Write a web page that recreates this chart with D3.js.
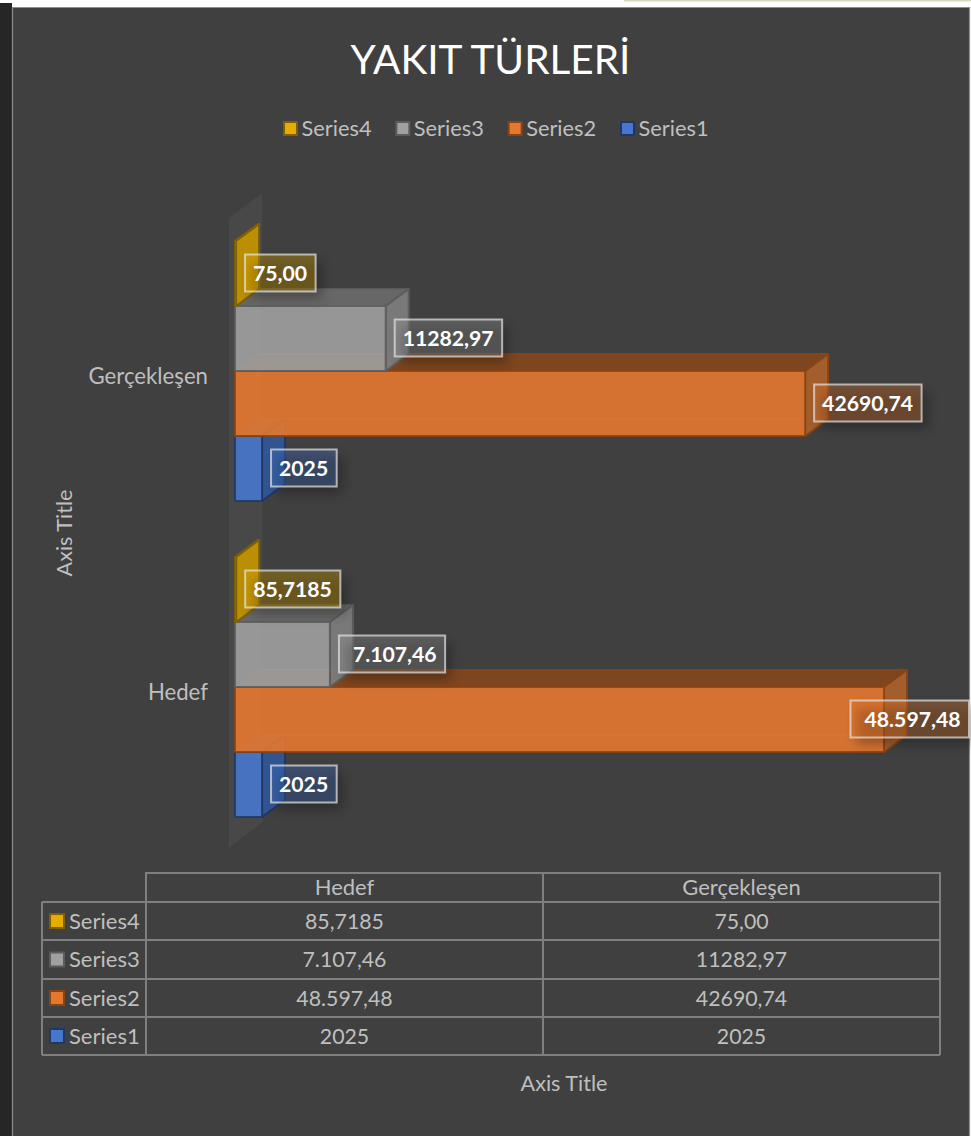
<!DOCTYPE html>
<html><head><meta charset="utf-8">
<script src="https://cdn.jsdelivr.net/npm/d3@7/dist/d3.min.js"></script>
<style>html,body{margin:0;padding:0;background:#fff}svg{display:block}text{font-family:Lato,"Open Sans",sans-serif}</style>
</head><body><svg id="c" width="971" height="1136"></svg>
<script>
const categories = ["Gerçekleşen", "Hedef"];
const tableColumns = ["Hedef", "Gerçekleşen"];
const seriesNames = ["Series4", "Series3", "Series2", "Series1"];
const series4 = [75, 85.7185];
const series3 = [11282.97, 7107.46];
const series2 = [42690.74, 48597.48];
const series1 = [2025, 2025];
const series4Labels = ["75,00", "85,7185"];
const series3Labels = ["11282,97", "7.107,46"];
const series2Labels = ["42690,74", "48.597,48"];
const series1Labels = ["2025", "2025"];
const frontColors = ["#e6ac00", "#a0a0a0", "#e57830", "#4777cc"];
const topColors = ["#a88000", "#6b6b6b", "#85471c", "#2f5597"];
const sideColors = ["#c29400", "#7c7c7c", "#a8602c", "#305696"];
const edgeColors = ["#7f6000", "#5c5c5c", "#8a4313", "#203864"];

const values = [series4, series3, series2, series1];
const labels = [series4Labels, series3Labels, series2Labels, series1Labels];
const svg = d3.select("#c");
const defs = svg.append("defs");
const f = defs.append("filter").attr("id","sh").attr("x","-40%").attr("y","-80%").attr("width","180%").attr("height","260%");
f.append("feGaussianBlur").attr("stdDeviation",6);

// page and chart frame
svg.append("rect").attr("width",971).attr("height",1136).attr("fill","#fff");
svg.append("rect").attr("x",0).attr("y",3).attr("width",12).attr("height",1133).attr("fill","#262626");
svg.append("rect").attr("x",624).attr("y",0).attr("width",347).attr("height",1.5).attr("fill","#d9d9c0");
svg.append("rect").attr("x",12).attr("y",7).attr("width",958).attr("height",1129).attr("fill","#404040").attr("stroke","none");
svg.append("path").attr("d","M12.5,1136V7.5H969.5V1136").attr("fill","none").attr("stroke","#8c8c8c").attr("stroke-width",1.2);

// title
svg.append("text").attr("x",490.5).attr("y",74).attr("text-anchor","middle").attr("font-size",40.5).attr("fill","#fff").text("YAKIT TÜRLERİ");

// legend
const legendX = d3.scalePoint().domain(seriesNames).range([283,620]);
const lg = svg.append("g").selectAll("g").data(seriesNames).join("g").attr("transform",d=>`translate(${legendX(d)},121)`);
lg.append("rect").attr("x",1).attr("y",1).attr("width",13).attr("height",13).attr("fill",(d,i)=>frontColors[i]).attr("stroke",(d,i)=>edgeColors[i]).attr("stroke-width",2);
lg.append("text").attr("x",18.5).attr("y",15).attr("font-size",21.8).attr("fill","#bfbfbf").text(d=>d);

// scales
const x = d3.scaleLinear().domain([0,48597.48]).range([235,884]);
const y = d3.scaleBand().domain(categories).range([213,845]);
const yInner = d3.scaleBand().domain(seriesNames).range([28,288]);
const DX = 23, DY = -17;

// wall + floor
svg.append("path").attr("d",`M229,218L262,193L263,822L229,848Z`).attr("fill","#fff").attr("opacity",0.045);

// bars, drawn back to front
const bars = svg.append("g");
[3,2,1,0].forEach(si=>{
  categories.forEach((c,ci)=>{
    const name = seriesNames[si];
    const x0 = x(0), x1 = x(values[si][ci]);
    const y0 = y(c)+yInner(name), y1 = y0+yInner.bandwidth();
    const g = bars.append("g").attr("stroke",edgeColors[si]).attr("stroke-width",2).attr("stroke-linejoin","round");
    // hidden faces seen through the translucent front
    g.append("rect").attr("x",x0+DX).attr("y",y0+DY).attr("width",x1-x0).attr("height",y1-y0)
      .attr("fill","none").attr("stroke",frontColors[si]).attr("stroke-opacity",0.5).attr("stroke-width",1);
    g.append("path").attr("d",`M${x0},${y1}L${x0+DX},${y1+DY}`).attr("stroke",frontColors[si]).attr("stroke-opacity",0.4).attr("stroke-width",1);
    // top
    g.append("path").attr("d",`M${x0},${y0}L${x0+DX},${y0+DY}L${x1+DX},${y0+DY}L${x1},${y0}Z`)
      .attr("fill",topColors[si]).attr("fill-opacity",0.9).attr("stroke-opacity",si===1||si===2?0.35:1);
    // side
    g.append("path").attr("d",`M${x1},${y0}L${x1+DX},${y0+DY}L${x1+DX},${y1+DY}L${x1},${y1}Z`)
      .attr("fill",sideColors[si]).attr("fill-opacity",0.95);
    // front
    g.append("rect").attr("x",x0).attr("y",y0).attr("width",x1-x0).attr("height",y1-y0)
      .attr("fill",frontColors[si]).attr("fill-opacity",0.9).attr("stroke-opacity",0.85);
  });
});

// category labels
svg.append("g").selectAll("text").data(categories).join("text")
  .attr("x",208).attr("y",d=>y(d)+y.bandwidth()/2+12.5).attr("text-anchor","end").attr("font-size",22.2).attr("fill","#bfbfbf").text(d=>d);

// data labels
const lab = svg.append("g");
seriesNames.forEach((name,si)=>{
  categories.forEach((c,ci)=>{
    const txt = labels[si][ci];
    const g = lab.append("g");
    const s = g.append("rect");
    const b = g.append("rect");
    const t = g.append("text").attr("font-size",21.2).attr("font-weight",700).attr("fill","#fff").text(txt);
    const leftPad = txt.includes(".") ? 14 : 8;
    const tw = t.node().getComputedTextLength();
    const w = tw + leftPad + 8.5, h = 37;
    const lx = Math.min(x(values[si][ci])+9, 969-w);
    const ly = y(c)+yInner(name)+13.5;
    s.attr("x",lx+6).attr("y",ly+7).attr("width",w).attr("height",h).attr("fill","#000").attr("opacity",0.28).attr("filter","url(#sh)");
    b.attr("x",lx).attr("y",ly).attr("width",w).attr("height",h)
      .attr("fill",frontColors[si]).attr("fill-opacity",0.32).attr("stroke","#e6e6e6").attr("stroke-opacity",0.7).attr("stroke-width",2);
    t.attr("x",lx+leftPad).attr("y",ly+h/2+7.5);
  });
});

// data table
const rowY = [873,902,940,979,1017,1055];
const tb = svg.append("g").attr("stroke","#7f7f7f").attr("stroke-width",2).attr("fill","none");
tb.append("path").attr("d",`M146,${rowY[5]}V${rowY[0]}H940V${rowY[5]}`);
tb.append("path").attr("d",`M543,${rowY[0]}V${rowY[5]}`);
rowY.slice(1).forEach(r=>tb.append("path").attr("d",`M42,${r}H940`));
tb.append("path").attr("d",`M42,${rowY[1]}V${rowY[5]}`);
const colC = d3.scalePoint().domain(tableColumns).range([344.5,741.5]);
const tt = svg.append("g").attr("font-size",22).attr("fill","#bfbfbf");
tableColumns.forEach(c=>tt.append("text").attr("x",colC(c)).attr("y",894.5).attr("text-anchor","middle").text(c));
seriesNames.forEach((name,si)=>{
  const cy = (rowY[si+1]+rowY[si+2])/2;
  tt.append("rect").attr("x",50).attr("y",cy-7).attr("width",14).attr("height",14).attr("fill",frontColors[si]).attr("stroke",edgeColors[si]).attr("stroke-width",2);
  tt.append("text").attr("x",69).attr("y",cy+7.5).text(name);
  tableColumns.forEach(c=>{
    const ci = categories.indexOf(c);
    tt.append("text").attr("x",colC(c)).attr("y",cy+7.5).attr("font-size",21.3).attr("text-anchor","middle").text(labels[si][ci]);
  });
});

// axis titles
svg.append("text").attr("x",564).attr("y",1091).attr("text-anchor","middle").attr("font-size",21.6).attr("fill","#bfbfbf").text("Axis Title");
svg.append("text").attr("transform","translate(72,533) rotate(-90)").attr("text-anchor","middle").attr("font-size",21.6).attr("fill","#bfbfbf").text("Axis Title");
</script></body></html>
